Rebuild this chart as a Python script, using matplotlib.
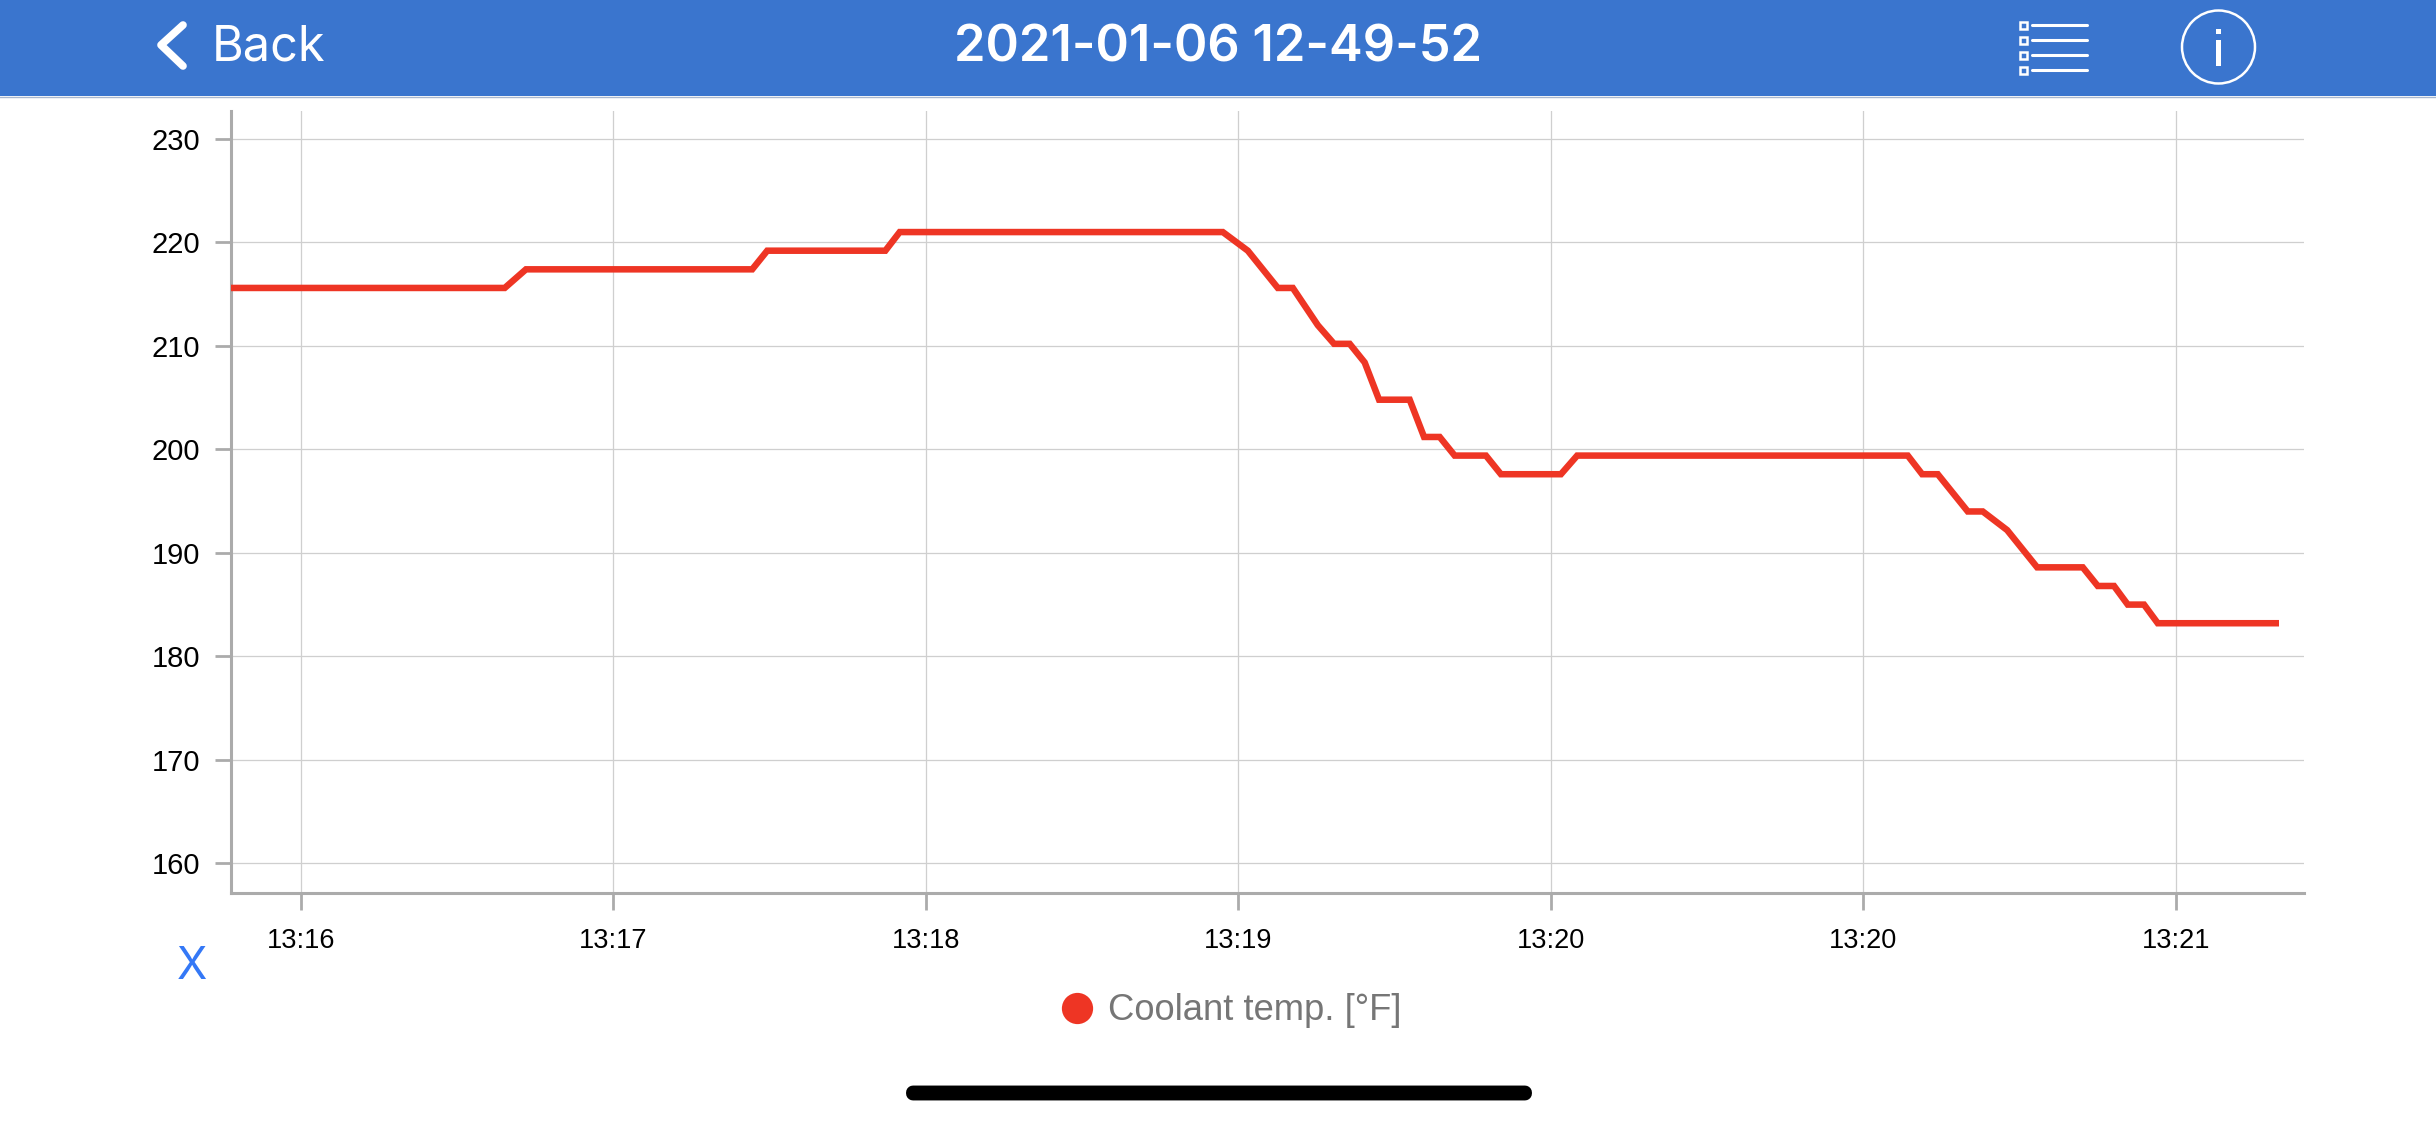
import matplotlib
matplotlib.use('Agg')
import matplotlib.pyplot as plt
from matplotlib.lines import Line2D
from matplotlib.patches import Circle, FancyBboxPatch, Rectangle

# seconds after 13:16:00
time_s = [33.8, 77.6, 81.0, 117.2, 119.6, 138.5, 140.8, 192.5, 196.5, 201.3,
          203.7, 207.7, 210.3, 212.8, 215.2, 217.5, 222.4, 224.7, 227.2, 229.6,
          234.6, 237.0, 246.6, 249.2, 302.1, 304.4, 306.9, 311.7, 314.1, 318.0,
          322.8, 330.1, 332.5, 335.1, 337.3, 339.9, 342.1, 361.5]
coolant_f = [215.6, 215.6, 217.4, 217.4, 219.2, 219.2, 221.0, 221.0, 219.2, 215.6,
             215.6, 212.0, 210.2, 210.2, 208.4, 204.8, 204.8, 201.2, 201.2, 199.4,
             199.4, 197.6, 197.6, 199.4, 199.4, 197.6, 197.6, 194.0, 194.0, 192.2,
             188.6, 188.6, 186.8, 186.8, 185.0, 185.0, 183.2, 183.2]

x_ticks = [45, 95, 145, 195, 245, 295, 345]
x_labels = ['13:16', '13:17', '13:18', '13:19', '13:20', '13:20', '13:21']
y_ticks = [160, 170, 180, 190, 200, 210, 220, 230]

W, H = 2436, 1125
HEADER = '#3A75CE'
AXIS = '#ABABAB'
GRID = '#CFCFCF'
RED = '#EE3524'

plt.rcParams['font.family'] = ['Liberation Sans', 'DejaVu Sans']

fig = plt.figure(figsize=(W / 100, H / 100), dpi=100, facecolor='white')

# plot area in pixels: left 231, right 2304, top 111, bottom 893
ax = fig.add_axes([231 / W, 1 - 893 / H, (2304 - 231) / W, (893 - 111) / H])
ax.plot(time_s, coolant_f, color=RED, lw=4.7, solid_joinstyle='miter', solid_capstyle='butt', zorder=3)
ax.set_xlim(33.8, 365.5)
ax.set_ylim(157.13, 232.7)
ax.set_xticks(x_ticks)
ax.set_xticklabels(x_labels)
ax.set_yticks(y_ticks)
ax.grid(True, color=GRID, lw=0.9)
ax.set_axisbelow(True)
ax.tick_params(axis='x', length=12.5, width=2, color=AXIS, labelsize=19.5, pad=13)
ax.tick_params(axis='y', length=11.5, width=2, color=AXIS, labelsize=21, pad=10.5)
ax.spines['top'].set_visible(False)
ax.spines['right'].set_visible(False)
ax.spines['left'].set_color(AXIS)
ax.spines['bottom'].set_color(AXIS)
ax.spines['left'].set_linewidth(2.2)
ax.spines['bottom'].set_linewidth(2.2)

handle = Line2D([], [], ls='none', marker='o', ms=22.5, color=RED, mew=0)
ax.legend([handle], ['Coolant temp. [°F]'], loc='center', bbox_to_anchor=(1230.5 / W, 1 - 1011 / H),
          bbox_transform=fig.transFigure, frameon=False, fontsize=26.2, labelcolor='#767676',
          handletextpad=0.36, handlelength=1.0, borderpad=0)

# app chrome, drawn in pixel coordinates
ui = fig.add_axes([0, 0, 1, 1], facecolor='none')
ui.set_xlim(0, W)
ui.set_ylim(H, 0)
ui.axis('off')
ui.add_patch(Rectangle((0, 0), W, 96, color=HEADER, lw=0))
ui.plot([0, W], [96.5, 96.5], color='#A9B8CF', lw=1)

ui.plot([183, 161, 183], [25, 45, 66], color='white', lw=5.5, solid_capstyle='round', solid_joinstyle='round')
ui.text(212, 47.5, 'Back', color='white', fontsize=35, family=['Inter', 'DejaVu Sans'], weight='normal',
        ha='left', va='center')
ui.text(1218, 48, '2021-01-06 12-49-52', color='white', fontsize=36.5, family=['Inter', 'DejaVu Sans'],
        weight='semibold', ha='center', va='center')

# list icon
for y in [25, 40, 55, 70]:
    ui.add_patch(Rectangle((2020, y - 3.5), 7, 7, fc=HEADER, ec='white', lw=1.8))
    ui.plot([2032, 2087], [y, y], color='white', lw=2.2, solid_capstyle='round')

# info icon
ui.add_patch(Circle((2218.5, 47), 36.5, fc='none', ec='white', lw=1.8))
ui.add_patch(Rectangle((2216, 29), 5, 5, fc='white', lw=0))
ui.add_patch(Rectangle((2216, 40), 5, 26, fc='white', lw=0))

ui.text(192, 967, 'X', color='#3478F6', fontsize=32, family=['Inter', 'DejaVu Sans'], weight='normal',
        ha='center', va='center')
ui.add_patch(FancyBboxPatch((913, 1092.5), 612, 1, boxstyle='round,pad=0,rounding_size=0', fc='black', ec='black',
                            lw=10, joinstyle='round'))

fig.savefig('out.png', dpi=100)
